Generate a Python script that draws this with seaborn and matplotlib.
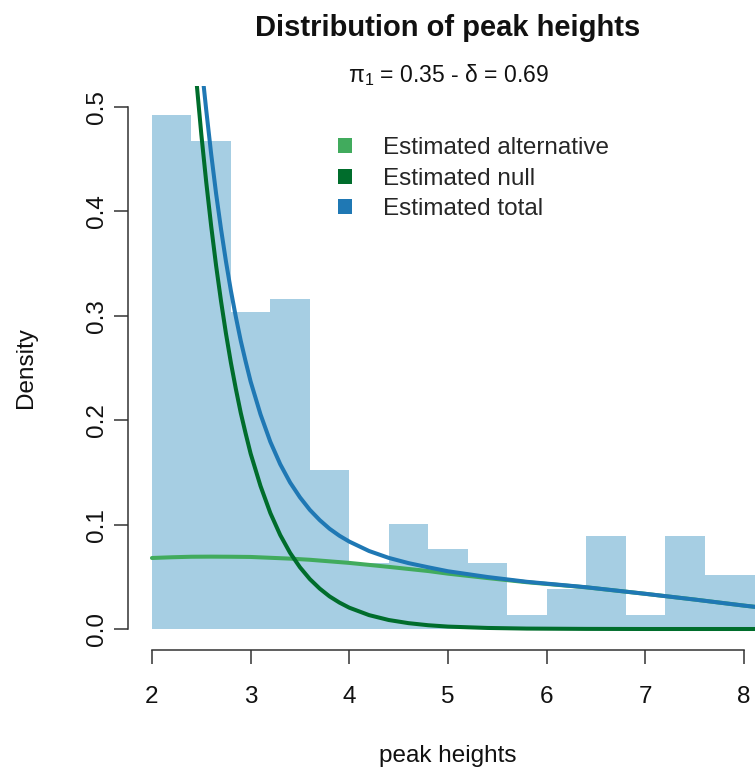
import numpy as np
import pandas as pd
import matplotlib
matplotlib.use("Agg")
import matplotlib.pyplot as plt
from matplotlib.patches import Patch
import seaborn as sns

# ---- histogram of peak heights (density scale, bin width 0.4) ----
bin_edges = [2.0, 2.4, 2.8, 3.2, 3.6, 4.0, 4.4, 4.8, 5.2, 5.6,
             6.0, 6.4, 6.8, 7.2, 7.6, 8.0, 8.4]
bin_density = [0.492, 0.467, 0.304, 0.316, 0.152, 0.063, 0.101, 0.077,
               0.0635, 0.0134, 0.038, 0.089, 0.0134, 0.089, 0.0517, 0.0517]

# ---- fitted densities ----
alt_x = [2.0, 2.2, 2.4, 2.6, 2.8, 3.0, 3.2, 3.4, 3.6, 3.8, 4.0, 4.2, 4.4,
         4.6, 4.8, 5.0, 5.4, 5.8, 6.4, 7.0, 7.5, 8.0, 8.3]
alt_y = [0.0680, 0.0687, 0.0692, 0.0693, 0.0692, 0.0690, 0.0682, 0.0674,
         0.0663, 0.0648, 0.0633, 0.0614, 0.0595, 0.0575, 0.0555, 0.0530,
         0.0488, 0.0448, 0.0399, 0.0337, 0.0282, 0.0224, 0.0192]

null_x = [2.44, 2.50, 2.55, 2.60, 2.65, 2.70, 2.75, 2.80, 2.85, 2.90, 2.95,
          3.00, 3.10, 3.20, 3.30, 3.40, 3.50, 3.60, 3.70, 3.80, 3.90, 4.00,
          4.20, 4.40, 4.60, 4.80, 5.00, 5.40, 5.80, 6.40, 7.00, 8.30]
null_y = [0.536, 0.474, 0.428, 0.386, 0.348, 0.314, 0.283, 0.255, 0.230,
          0.207, 0.187, 0.168, 0.137, 0.111, 0.090, 0.0729, 0.0591, 0.0478,
          0.0387, 0.0312, 0.0253, 0.0204, 0.0133, 0.0086, 0.0056, 0.0036,
          0.0023, 0.0010, 0.0004, 0.0001, 0.0, 0.0]

total_x = [2.51, 2.55, 2.60, 2.65, 2.70, 2.75, 2.80, 2.85, 2.90, 2.95, 3.00,
           3.10, 3.20, 3.30, 3.40, 3.50, 3.60, 3.70, 3.80, 3.90, 4.00, 4.20,
           4.40, 4.60, 4.80, 5.00, 5.40, 5.80, 6.40, 7.00, 7.50, 8.00, 8.30]
total_y = [0.533, 0.497, 0.455, 0.417, 0.383, 0.352, 0.324, 0.299, 0.276,
           0.256, 0.237, 0.2056, 0.1792, 0.1578, 0.1403, 0.1261, 0.1141,
           0.1043, 0.0960, 0.0893, 0.0837, 0.0747, 0.0681, 0.0631, 0.0591,
           0.0553, 0.0498, 0.0452, 0.0400, 0.0337, 0.0282, 0.0224, 0.0192]

x_ticks = [2, 3, 4, 5, 6, 7, 8]
y_ticks = [0.0, 0.1, 0.2, 0.3, 0.4, 0.5]
legend_labels = ["Estimated alternative", "Estimated null", "Estimated total"]

col_bar = "#A6CEE3"
col_alt = "#41AB5D"
col_null = "#006D2C"
col_total = "#1F78B4"
col_axis = "#333333"

sns.set_style("white")
plt.rcParams["font.family"] = ["Liberation Sans", "DejaVu Sans"]
plt.rcParams["mathtext.default"] = "regular"

fig = plt.figure(figsize=(7.55, 7.67), dpi=100)
ax = fig.add_axes([0.1699, 0.1527, 0.8469, 0.7351])

centers = [(a + b) / 2 for a, b in zip(bin_edges[:-1], bin_edges[1:])]
hist_df = pd.DataFrame({"x": centers, "w": bin_density})
sns.histplot(data=hist_df, x="x", weights="w", bins=bin_edges, stat="count",
             color=col_bar, alpha=1.0, edgecolor="none", linewidth=0, ax=ax)

lw = 2.9
sns.lineplot(x=alt_x, y=alt_y, color=col_alt, linewidth=lw, ax=ax, sort=False)
sns.lineplot(x=null_x, y=null_y, color=col_null, linewidth=lw, ax=ax, sort=False)
sns.lineplot(x=total_x, y=total_y, color=col_total, linewidth=lw, ax=ax, sort=False)

ax.set_xlim(1.76, 8.24)
ax.set_ylim(-0.02, 0.52)

for side in ["top", "right"]:
    ax.spines[side].set_visible(False)
for side in ["left", "bottom"]:
    ax.spines[side].set_color(col_axis)
    ax.spines[side].set_linewidth(1.1)
ax.spines["bottom"].set_bounds(2, 8)
ax.spines["left"].set_bounds(0, 0.5)

ax.set_xticks(x_ticks)
ax.set_xticklabels([str(v) for v in x_ticks])
ax.set_yticks(y_ticks)
ax.set_yticklabels([f"{v:.1f}" for v in y_ticks], rotation=90, va="center")
ax.tick_params(axis="both", direction="out", length=10, width=1.1,
               color=col_axis, labelsize=17.5, labelcolor="#111111",
               bottom=True, left=True)
ax.tick_params(axis="x", pad=16)
ax.tick_params(axis="y", pad=4.5)

ax.set_xlabel("peak heights", fontsize=17.5, color="#111111", labelpad=27)
ax.set_ylabel("Density", fontsize=17.5, color="#111111", labelpad=35.5)

fig.text(448 / 755, 1 - 28 / 767, "Distribution of peak heights",
         ha="center", va="center", fontsize=21, fontweight="bold", color="#111111")
fig.text(448 / 755, 1 - 75 / 767, r"$\pi_1$ = 0.35 - $\delta$ = 0.69",
         ha="center", va="center", fontsize=16.5, color="#111111")

handles = [Patch(facecolor=c, edgecolor="none") for c in (col_alt, col_null, col_total)]
ax.legend(handles, legend_labels, loc="upper left",
          bbox_to_anchor=(0.328, 0.909), frameon=False, fontsize=17.5,
          handlelength=0.58, handleheight=0.58, handletextpad=1.28,
          labelspacing=0.35, borderpad=0, borderaxespad=0)

fig.savefig("out.png", dpi=100)
